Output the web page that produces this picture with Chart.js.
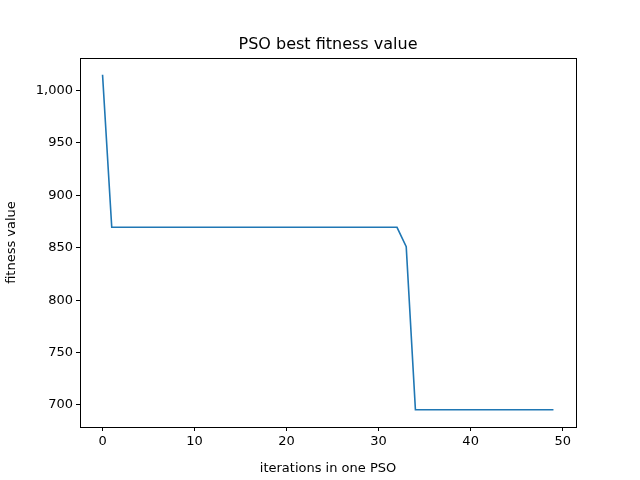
<!DOCTYPE html>
<html><head><script src="https://cdn.jsdelivr.net/npm/chart.js@4"></script>
<style>body{margin:0;background:#fff}</style></head>
<body><div style="width:640px;height:480px"><canvas id="c"></canvas></div>
<script>
const iterations = Array.from({length:50},(_,i)=>i);
const fitness = [1015,869.5,869.5,869.5,869.5,869.5,869.5,869.5,869.5,869.5,869.5,869.5,869.5,869.5,869.5,869.5,869.5,869.5,869.5,869.5,869.5,869.5,869.5,869.5,869.5,869.5,869.5,869.5,869.5,869.5,869.5,869.5,869.5,851,695.5,695.5,695.5,695.5,695.5,695.5,695.5,695.5,695.5,695.5,695.5,695.5,695.5,695.5,695.5,695.5];
const xTicks=[0,10,20,30,40,50];
const yTicks=[700,750,800,850,900,950,1000];
const font={family:'DejaVu Sans',size:13};
const frame={id:'frame',afterDraw(ch){const a=ch.chartArea,c=ch.ctx;c.save();c.strokeStyle='#000';c.lineWidth=1;c.strokeRect(a.left+0.5,a.top+0.5,a.right-a.left,a.bottom-a.top);
c.fillStyle='#000';c.font='16px DejaVu Sans';c.textAlign='center';c.textBaseline='alphabetic';c.fillText('PSO best fitness value',(a.left+a.right)/2,49);c.restore();}};
new Chart(document.getElementById('c'),{type:'line',
data:{datasets:[{data:iterations.map((x,i)=>({x,y:fitness[i]})),borderColor:'#1f77b4',borderWidth:1.6,pointRadius:0,tension:0}]},
options:{responsive:true,maintainAspectRatio:false,animation:false,layout:{padding:{top:58,right:64,left:0,bottom:0}},
plugins:{legend:{display:false},tooltip:{enabled:false}},
scales:{
x:{type:'linear',min:-2.45,max:51.45,afterBuildTicks:s=>{s.ticks=xTicks.map(v=>({value:v}))},
afterFit:s=>{s.height=53},
grid:{drawOnChartArea:false,drawTicks:true,tickLength:4,color:'#000'},border:{color:'#000'},
ticks:{color:'#000',font,padding:3,maxRotation:0},
title:{display:true,text:'iterations in one PSO',color:'#000',font,padding:{top:0}}},
y:{min:679,max:1031,afterBuildTicks:s=>{s.ticks=yTicks.map(v=>({value:v}))},
afterFit:s=>{s.width=80},
grid:{drawOnChartArea:false,drawTicks:true,tickLength:4,color:'#000'},border:{color:'#000'},
ticks:{color:'#000',font,padding:3},
title:{display:true,text:'fitness value',color:'#000',font,padding:{bottom:2}}}}},
plugins:[frame]});
</script></body></html>
